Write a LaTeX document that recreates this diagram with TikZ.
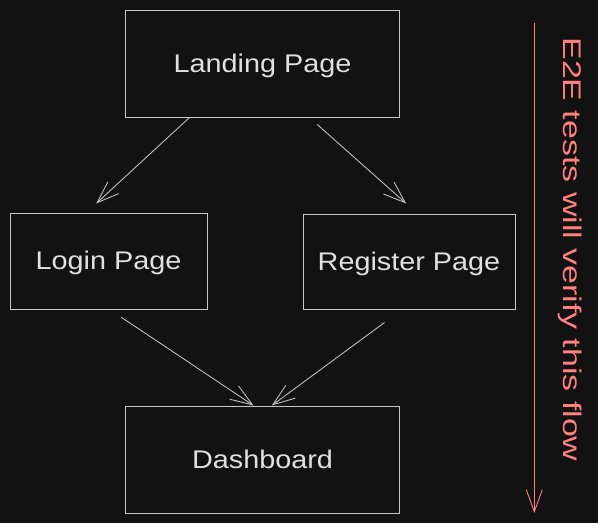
\documentclass[tikz,border=0pt]{standalone}
\usepackage{fontspec}
\setmainfont{Liberation Sans}[FakeStretch=1.13]
\newfontfamily\rednotefont{Liberation Sans}[FakeStretch=1.33]
\usetikzlibrary{arrows.meta,calc}
\definecolor{bgc}{HTML}{121212}
\definecolor{strokec}{HTML}{C8C8C8}
\definecolor{textc}{HTML}{E0E0E0}
\definecolor{linkc}{HTML}{BDBDBD}
\definecolor{notec}{HTML}{FF8080}
\begin{document}
\begin{tikzpicture}[x=1pt,y=-1pt,
  pagebox/.style={draw=strokec, line width=1pt, inner sep=0pt,
    text=textc, font=\fontsize{25.5}{30}\selectfont,
    text height=20pt, text depth=3pt},
  flowarrow/.style={draw=linkc, line width=0.9pt,
    -{Straight Barb[length=22pt,width=16pt]}},
  notearrow/.style={draw=notec, line width=0.9pt,
    -{Straight Barb[length=22pt,width=16pt]}}]
\fill[bgc] (0,0) rectangle (598,523);
\useasboundingbox (0,0) rectangle (598,523);

\node[pagebox, minimum width=273.6pt, minimum height=107pt] (landing) at (262.5,63.5) {Landing Page};
\node[pagebox, minimum width=197pt, minimum height=96pt] (login) at (108.5,261) {Login Page};
\node[pagebox, minimum width=212pt, minimum height=95pt] (register) at (409,261.5) {Register Page};
\node[pagebox, minimum width=273.6pt, minimum height=107pt] (dash) at (262.5,459.5) {Dashboard};

\draw[flowarrow] ([xshift=64.3pt]landing.south west) -- ([xshift=86.7pt,yshift=9pt]login.north west);
\draw[flowarrow] ([xshift=192pt,yshift=-7pt]landing.south west) -- ([xshift=103.7pt,yshift=10pt]register.north west);
\draw[flowarrow] ([xshift=111.7pt,yshift=-7.7pt]login.south west) -- ([xshift=128.3pt]dash.north west);
\draw[flowarrow] ([xshift=82pt,yshift=-13pt]register.south west) -- ([xshift=146.6pt]dash.north west);

\coordinate (ntop) at (534.3,23);
\coordinate (nbot) at (534.3,513);
\draw[notearrow] (ntop) -- (nbot);
\node[rotate=-90, anchor=base, inner sep=0pt, text=notec,
  font=\rednotefont\fontsize{25.5}{30}\selectfont] (note) at (563,249.5) {E2E tests will verify this flow};
\end{tikzpicture}
\end{document}
